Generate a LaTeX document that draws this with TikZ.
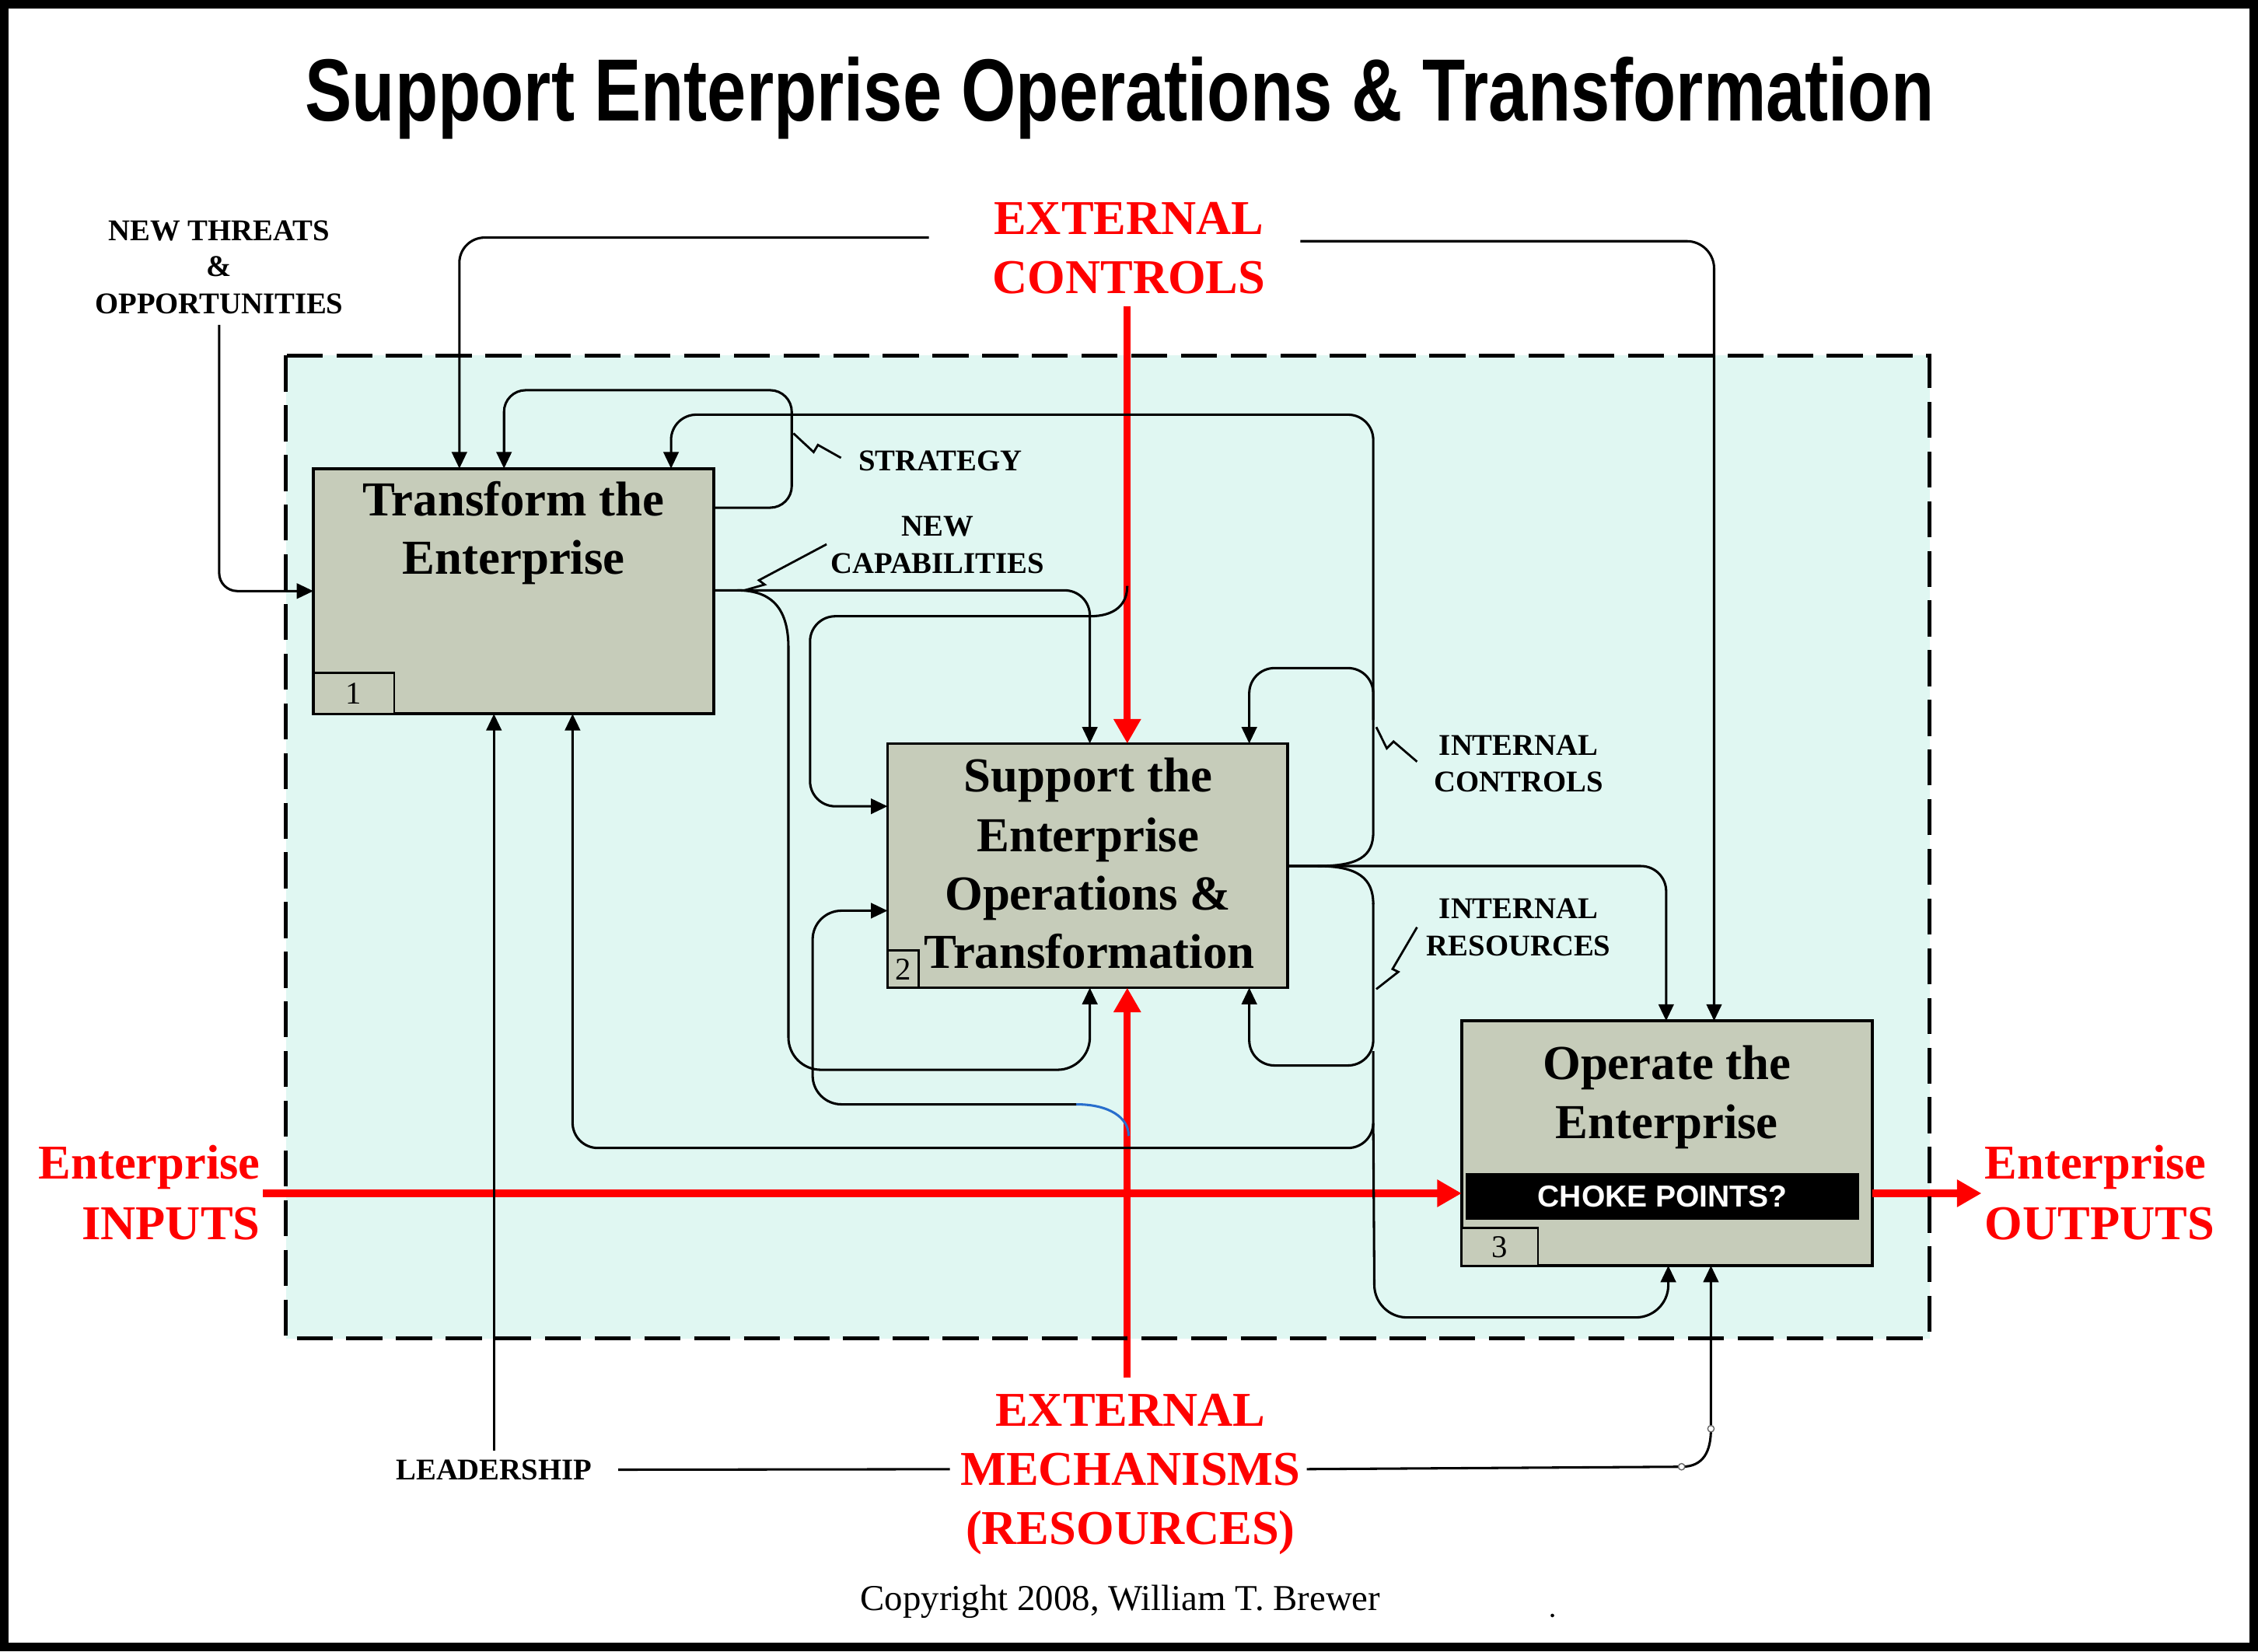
\documentclass[tikz,border=0pt]{standalone}
\usepackage{graphicx}
\usepackage{fontspec}
\setmainfont{Liberation Serif}
\newfontfamily\arialf{Liberation Sans}
\usetikzlibrary{arrows.meta,calc}
\definecolor{boxfill}{RGB}{198,204,186}
\definecolor{mint}{RGB}{224,247,242}
\definecolor{arcblue}{RGB}{40,110,205}
\begin{document}
\begin{tikzpicture}[x=0.2mm,y=-0.2mm,
  conn/.style={draw=black, line width=0.33mm, -{Triangle[width=2.1mm,length=2.3mm]}},
  plain/.style={draw=black, line width=0.33mm},
  bolt/.style={draw=black, line width=0.3mm},
  redconn/.style={draw=red, line width=1mm, -{Triangle[width=3.6mm,length=3.4mm]}},
  proc/.style={draw=black, line width=0.4mm, fill=boxfill, rectangle, inner sep=0, outer sep=0},
  numbox/.style={draw=black, line width=0.3mm, fill=boxfill, rectangle, inner sep=0, outer sep=0, font=\fontsize{12.5}{14}\selectfont},
  boxtxt/.style={font=\fontsize{19.3}{23}\selectfont\bfseries, anchor=base, inner sep=0},
  lbl/.style={font=\fontsize{11.9}{14}\selectfont\bfseries, anchor=base, inner sep=0},
  redlbl/.style={text=red, font=\fontsize{19.2}{23}\selectfont\bfseries, anchor=base, inner sep=0},
  smallc/.style={circle, draw=black!60, fill=white, inner sep=0, minimum size=0.9mm, line width=0.15mm},
]
\useasboundingbox (0,0) rectangle (1568,1147);
\fill[white] (0,0) rectangle (1568,1147);
\draw[line width=1.15mm] (3,3) rectangle (1565,1144);

% enterprise boundary fill
\fill[mint] (198.6,247) rectangle (1340,929.6);

% title
\node[anchor=base, inner sep=0] (title) at (777.5,83.7)
  {\resizebox{226.2mm}{\height}{\arialf\bfseries\fontsize{34.9}{40}\selectfont Support Enterprise Operations \& Transformation}};

% process boxes
\node[proc, minimum width=55.64mm, minimum height=34.08mm] (b1) at (356.7,410.6) {};
\node[proc, minimum width=55.58mm, minimum height=33.92mm] (b2) at (755.25,601.2) {};
\node[proc, minimum width=57mm, minimum height=34mm] (b3) at (1157.5,794) {};
\node[numbox, minimum width=11.2mm, minimum height=5.7mm] (n1) at (245.7,481.4) {1};
\node[numbox, minimum width=4.3mm, minimum height=5.2mm] (n2) at (627.1,673.1) {2};
\node[numbox, minimum width=10.6mm, minimum height=5.2mm] (n3) at (1041.5,866) {3};
\node[fill=black, inner sep=0, minimum width=54.6mm, minimum height=6.4mm, text=white,
      font=\arialf\bfseries\fontsize{12}{14}\selectfont] (choke) at (1154.5,831) {CHOKE POINTS?};

% red flows
\coordinate (ecTop) at (782.8,212.6);
\coordinate (emBot) at (782.8,957);
\coordinate (inStart) at (182.7,828.8);
\coordinate (outEnd) at (1376,828.8);
\draw[redconn] (ecTop) -- (b2.north -| ecTop);
\draw[redconn] (emBot) -- (b2.south -| emBot);
\draw[redconn] (inStart) -- (b3.west |- inStart);
\draw[redconn] (b3.east |- outEnd) -- (outEnd);

% dashed boundary
\draw[line width=0.55mm, dash pattern=on 5mm off 1.9mm] (198.6,247) rectangle (1340,929.6);

% ---- black connectors ----
\coordinate (ecL) at (645,165);
\coordinate (ecR) at (903,167.5);
\draw[conn, rounded corners=3.5mm] (ecL) -- (319,165) -- (b1.north -| 319,0);
\draw[conn, rounded corners=3.8mm] (ecR) -- (1190.3,167.5) -- (b3.north -| 1190.3,0);

% new threats
\node[lbl] (nt1) at (152.2,167) {NEW THREATS};
\node[lbl] (nt2) at (152.2,192) {\&};
\node[lbl] (nt3) at (152.2,218) {OPPORTUNITIES};
\draw[conn, rounded corners=2.5mm] (nt3.south) ++(0,7) |- (b1.west |- 0,410.5);

% strategy loop
\draw[conn, rounded corners=3mm] (b1.east |- 0,352.6) -- (549.8,352.6) -- (549.8,271) -- (350,271) -- (b1.north -| 350,0);

% box 2 output split
\coordinate (split2) at (915,601.5);
\draw[conn] (b2.east |- split2) -- (split2) .. controls (943,601.5) and (953.6,595) .. (953.6,578)
   [rounded corners=3.5mm] -- (953.6,288) -- (466,288) -- (b1.north -| 466,0);
\draw[conn, rounded corners=3.5mm] (953.6,500) -- (953.6,464) -- (867.5,464) -- (b2.north -| 867.5,0);
\draw[conn, rounded corners=3.5mm] (b2.east |- split2) -- (1157,601.5) -- (b3.north -| 1157,0);
\draw[plain] (split2) .. controls (943,601.5) and (953.6,610) .. (953.6,628);
\draw[conn, rounded corners=3.5mm] (953.6,627) -- (953.6,740) -- (867.5,740) -- (b2.south -| 867.5,0);
\draw[conn, rounded corners=3.5mm] (953.6,730) -- (953.6,797.3) -- (397.6,797.3) -- (b1.south -| 397.6,0);
\draw[conn, rounded corners=4.5mm] (953.6,780) -- (954.5,915) -- (1158.5,915) -- (b3.south -| 1158.5,0);

% new capabilities
\coordinate (split1) at (512,410);
\draw[conn, rounded corners=3.5mm] (b1.east |- split1) -- (756.8,410) -- (b2.north -| 756.8,0);
\draw[conn] (split1) .. controls (538,410) and (547.5,425) .. (547.5,450)
   [rounded corners=4.5mm] -- (547.5,743) -- (756.8,743) -- (b2.south -| 756.8,0);

% external controls branch
\coordinate (ecJ) at (782.8,406.9);
\draw[conn] (ecJ) .. controls (782.8,420) and (774,428) .. (756.8,428)
   [rounded corners=3.5mm] -- (562.5,428) -- (562.5,560) -- (b2.west |- 0,560);

% external mechanisms branch
\coordinate (emJ) at (783.8,789);
\coordinate (emB) at (747.4,767);
\draw[arcblue, line width=0.33mm] (emJ) .. controls (783.8,776) and (770,767) .. (emB);
\draw[conn, rounded corners=4mm] (emB) -- (564.3,767) -- (564.3,632.5) -- (b2.west |- 0,632.5);

% leadership / mechanisms
\node[lbl] (lead) at (343,1027.6) {LEADERSHIP};
\node[redlbl] (em1) at (785,990.3) {EXTERNAL};
\node[redlbl] (em2) at (785,1031.4) {MECHANISMS};
\node[redlbl] (em3) at (785,1072.4) {(RESOURCES)};
\draw[conn] (lead.north) ++(0,-6) -- (lead.north |- b1.south);
\draw[plain, shorten <=3.6mm, shorten >=1.4mm] (lead.east) -- (em2.west);
\coordinate (lc1) at (1167.7,1018.7);
\coordinate (lc2) at (1188.1,992.3);
\draw[conn, shorten <=0.8mm] (em2.east) -- (lc1) .. controls (1183,1018.7) and (1188.1,1008) .. (lc2) -- (b3.south -| lc2);
\node[smallc] (c1) at (lc1) {};
\node[smallc] (c2) at (lc2) {};

% lightning labels
\draw[bolt] (551,301) -- (565,314) -- (568,309) -- (584,318);
\draw[bolt] (574,378) -- (527,403) -- (531,406) -- (517,410);
\draw[bolt] (955.7,505) -- (963,519.7) -- (967.7,515) -- (984,529);
\draw[bolt] (955.7,687) -- (971,675) -- (967,673) -- (984,644);

% labels
\node[lbl] (strat) at (652.9,326.7) {STRATEGY};
\node[lbl] (nc1) at (651,372.4) {NEW};
\node[lbl] (nc2) at (651,398.2) {CAPABILITIES};
\node[lbl] (ic1) at (1054.6,524.3) {INTERNAL};
\node[lbl] (ic2) at (1054.6,549.7) {CONTROLS};
\node[lbl] (ir1) at (1054.6,638) {INTERNAL};
\node[lbl] (ir2) at (1054.6,663.8) {RESOURCES};

% red labels
\node[redlbl] (ec1) at (783.9,162.7) {EXTERNAL};
\node[redlbl] (ec2) at (783.9,203.6) {CONTROLS};
\node[redlbl, anchor=base east] (ei1) at (181,819) {Enterprise};
\node[redlbl, anchor=base east] (ei2) at (181,861) {INPUTS};
\node[redlbl, anchor=base west] (eo1) at (1378,819) {Enterprise};
\node[redlbl, anchor=base west] (eo2) at (1378,861) {OUTPUTS};

% box texts
\node[boxtxt] (t11) at (356.7,358) {Transform the};
\node[boxtxt] (t12) at (356.7,398.9) {Enterprise};
\node[boxtxt] (t21) at (755.5,549.9) {Support the};
\node[boxtxt] (t22) at (755.5,591.3) {Enterprise};
\node[boxtxt] (t23) at (755.5,631.8) {Operations \&};
\node[boxtxt] (t24) at (756.5,672.3) {Transformation};
\node[boxtxt] (t31) at (1157.5,749.6) {Operate the};
\node[boxtxt] (t32) at (1157.5,790.9) {Enterprise};

% copyright
\node[anchor=base, inner sep=0, font=\fontsize{14.4}{17}\selectfont] (copy) at (778,1118.6) {Copyright 2008, William T. Brewer};
\fill (1078,1122) circle (0.25mm);
\end{tikzpicture}
\end{document}
